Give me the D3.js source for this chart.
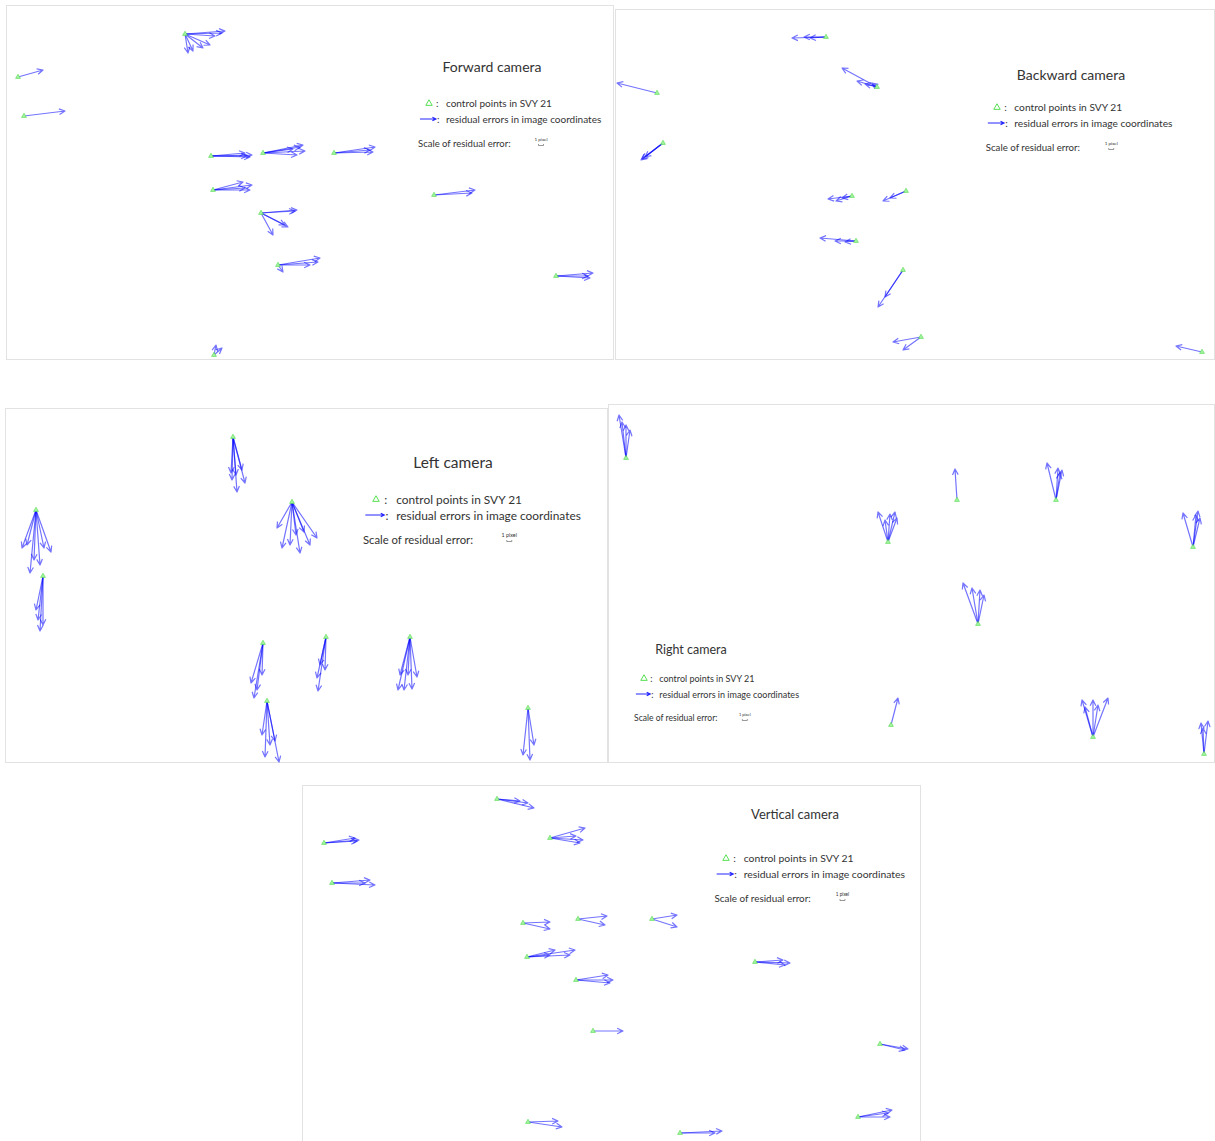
<!DOCTYPE html>
<html>
<head>
<meta charset="utf-8">
<script src="https://cdn.jsdelivr.net/npm/d3@7"></script>
<style>
  body { margin: 0; background: #fff; }
  svg { display: block; }
  text { font-family: Lato, "Open Sans", sans-serif; fill: #333; }
</style>
</head>
<body>
<svg id="chart" width="1215" height="1141"></svg>
<script>
// Titles of the five camera views
const cameraNames = ["Forward camera", "Backward camera", "Left camera", "Right camera", "Vertical camera"];

// Legend texts
const legendLabels = ["control points in SVY 21", "residual errors in image coordinates", "Scale of residual error:", "1 pixel"];

// Control points (image coordinates) and residual vectors (pixels) per camera
const forwardPoints = [[179, 29], [12, 72], [18, 111], [205, 151], [257, 148], [328, 148], [207, 185], [255, 208], [272, 260], [428, 190], [550, 271], [208, 350]];
const forwardResiduals = [
  [[8, -0.6], [7.4, -0.2], [6, 0.4], [0.6, 3.8], [1.6, 3.4], [3.6, 2.8], [5, 2.2]],
  [[5, -1.4]],
  [[8.2, -1]],
  [[8.2, -0.2], [7.8, 0.2], [6.8, -0.6], [7.2, 0]],
  [[8, -1.6], [8.4, -0.4], [7.4, -1.2], [6.8, 0.4], [6, -0.8]],
  [[8.2, -1.2], [7.8, -0.2], [7.2, -0.6]],
  [[7.8, -1], [7.4, 0], [6, -1.6], [6.4, -0.4]],
  [[7.2, -0.6], [6.8, -0.4], [5.4, 2.8], [4.8, 2.4], [2.4, 4.4]],
  [[8.4, -1.4], [8, -0.6], [6.4, 0], [1, 1.4]],
  [[8.2, -1], [7.6, -0.4]],
  [[7.4, -0.6], [6.8, 0.4], [6.4, 0]],
  [[0.4, -2], [1.6, -1.4]]
];

const backwardPoints = [[211, 28], [42, 84], [262, 78], [48, 134], [237, 187], [291, 182], [241, 232], [288, 261], [306, 328], [587, 343]];
const backwardResiduals = [
  [[-6.8, 0.2], [-3.2, 0.2], [-4.4, 0]],
  [[-8, -2]],
  [[-7, -3.8], [-4, -1.2], [-1, -0.8], [-2.4, -0.6]],
  [[-4.2, 3.2], [-3.6, 2.8], [-4.4, 3.4]],
  [[-4.8, 0.6], [-3.2, 1], [-2, 0.4]],
  [[-4.6, 2], [-3.2, 1.4]],
  [[-7.2, -0.6], [-4.2, 0], [-2.2, 0.2]],
  [[-5, 7.4], [-3.6, 5.4]],
  [[-5.6, 1], [-3.6, 2.6]],
  [[-5.2, -1.2]]
];

const leftPoints = [[228, 29], [31, 102], [287, 94], [38, 168], [258, 235], [321, 229], [405, 229], [262, 293], [523, 300]];
const leftResiduals = [
  [[0.8, 11], [-0.2, 8.6], [2.4, 9.2], [1.8, 6.6], [0.6, 7.6], [-0.4, 7.2]],
  [[-2.8, 7.6], [-1.2, 12.6], [3, 8.4], [1.6, 7.6], [-0.4, 10], [-1.8, 7], [0.8, 11]],
  [[-3, 5.2], [-2, 9.2], [1.6, 10.2], [5, 7.2], [3.6, 8.6], [-0.4, 8.6], [0.8, 6.6], [2.4, 6]],
  [[-1, 8.8], [-0.6, 11], [-1.4, 6.8], [0, 9.8]],
  [[-1.8, 11], [-2.4, 8], [-0.2, 6.4], [-1.2, 9.4]],
  [[-1.6, 10.8], [-1.8, 8.2], [-0.2, 6.6], [-1.2, 5.6]],
  [[-2.4, 10.6], [-1.2, 10.6], [0.4, 10.4], [1.4, 8], [-0.4, 7.6], [-2, 7.6]],
  [[-0.4, 11.2], [2.4, 12.2], [-1, 6.8], [0.6, 8.8], [1.6, 8]],
  [[0.4, 10.4], [-1, 9.4], [1.2, 7.4]]
];

const rightPoints = [[18, 54], [280, 138], [349, 96], [448, 96], [585, 143], [370, 220], [283, 321], [485, 333], [596, 350]];
const rightResiduals = [
  [[-1.4, -8.6], [-0.8, -7.2], [0, -6.6], [0.8, -5.6]],
  [[-2, -6], [1.4, -6], [0.4, -5.6], [1.8, -4.8], [-0.6, -4.4]],
  [[-0.4, -6.2]],
  [[-1.8, -7.4], [0.4, -6.4], [0.8, -5.4], [1.2, -6]],
  [[-2, -6.8], [1, -7.2], [0.6, -6.4], [1.4, -5.8]],
  [[-3, -8.2], [-1.2, -7.2], [0.4, -6.8], [1.2, -5.8]],
  [[1.4, -5.4]],
  [[-2.2, -7.4], [0, -7.4], [3, -7.8], [1, -6.4], [-1.6, -6]],
  [[-0.6, -6.2], [0.8, -6.6], [-0.2, -5.2]]
];

const verticalPoints = [[195, 14], [22, 58], [248, 53], [30, 98], [221, 138], [276, 134], [350, 134], [225, 172], [274, 195], [453, 177], [291, 246], [578, 259], [226, 337], [378, 348], [556, 332]];
const verticalResiduals = [
  [[7.4, 1.8], [6.2, 0.8], [4.6, 0.4]],
  [[7, -0.6], [6.2, -1], [6.6, -0.4]],
  [[7, -2], [6.6, 0.4], [6, 1], [5.2, -0.4]],
  [[8.6, 0.4], [7.6, -0.6], [6.6, 0]],
  [[5.4, -0.2], [5.4, 1.2]],
  [[5.8, -0.6], [5.4, 1.2]],
  [[5, -0.8], [5, 1.6]],
  [[9.6, -1.4], [8.6, -0.4], [4.6, -0.4], [5.6, -1.4]],
  [[7.4, 0], [6.4, -1], [6.8, 0.6]],
  [[7, 0.2], [5.6, -0.4], [6, 0.6]],
  [[6, 0]],
  [[5.6, 1], [5, 1.2]],
  [[6.8, 1], [6, -0.2]],
  [[8.4, -0.4], [7, 0]],
  [[6.8, -1.4], [6.4, 0], [6, -0.8]]
];

// Panel layout: frame, title centre, legend anchor (triangle), text scale
const panels = [
  { name: cameraNames[0], pts: forwardPoints, res: forwardResiduals, x: 6, y: 5, w: 608, h: 355, title: [492, 66], tfs: 14, legend: [429, 103], k: 1.0 },
  { name: cameraNames[1], pts: backwardPoints, res: backwardResiduals, x: 615, y: 9, w: 600, h: 351, title: [1071, 74], tfs: 14, legend: [997, 107], k: 1.02 },
  { name: cameraNames[2], pts: leftPoints, res: leftResiduals, x: 5, y: 408, w: 603, h: 355, title: [453, 462], tfs: 15.5, legend: [376, 499], k: 1.19 },
  { name: cameraNames[3], pts: rightPoints, res: rightResiduals, x: 608, y: 404, w: 607, h: 359, title: [691, 649], tfs: 12.5, legend: [644, 678], k: 0.9 },
  { name: cameraNames[4], pts: verticalPoints, res: verticalResiduals, x: 302, y: 785, w: 619, h: 360, title: [795, 814], tfs: 13, legend: [726, 858], k: 1.04 }
];

const svg = d3.select("#chart");
const ARROW = "#0000ff";
const GREEN_FILL = "#a6f5a0";
const GREEN_STROKE = "#4fd64a";

// 1 pixel of residual error is drawn 5 screen units long
const resScale = d3.scaleLinear().domain([0, 1]).range([0, 5]);

function arrowPath(x0, y0, x1, y1, head) {
  const a = Math.atan2(y1 - y0, x1 - x0);
  const s = 0.45;
  const hx1 = x1 - head * Math.cos(a - s), hy1 = y1 - head * Math.sin(a - s);
  const hx2 = x1 - head * Math.cos(a + s), hy2 = y1 - head * Math.sin(a + s);
  return `M${x0},${y0}L${x1},${y1}M${hx1},${hy1}L${x1},${y1}L${hx2},${hy2}`;
}

const tri = d3.symbol().type(d3.symbolTriangle);

panels.forEach(p => {
  const g = svg.append("g");
  const xs = d3.scaleLinear().domain([0, p.w]).range([p.x, p.x + p.w]);
  const ys = d3.scaleLinear().domain([0, p.h]).range([p.y, p.y + p.h]);

  g.append("rect")
    .attr("x", xs(0) + 0.5).attr("y", ys(0) + 0.5)
    .attr("width", p.w - 1).attr("height", p.h - 1)
    .attr("fill", "#fff").attr("stroke", "#e2e2e2").attr("stroke-width", 1);

  // residual vectors
  const vecs = [];
  p.pts.forEach((pt, i) => {
    p.res[i].forEach(r => vecs.push({ pt, r }));
  });
  g.append("g").selectAll("path").data(vecs).join("path")
    .attr("d", d => {
      const x0 = xs(d.pt[0]), y0 = ys(d.pt[1]);
      const x1 = x0 + resScale(d.r[0]), y1 = y0 + resScale(d.r[1]);
      return arrowPath(x0, y0, x1, y1, 6.5);
    })
    .attr("fill", "none").attr("stroke", ARROW)
    .attr("stroke-opacity", 0.55).attr("stroke-width", 1.2)
    .attr("stroke-linejoin", "round");

  // control points
  g.append("g").selectAll("path").data(p.pts).join("path")
    .attr("transform", d => `translate(${xs(d[0])},${ys(d[1])})`)
    .attr("d", tri.size(10)())
    .attr("fill", GREEN_FILL).attr("stroke", GREEN_STROKE).attr("stroke-width", 0.6);

  // title
  g.append("text")
    .attr("x", p.title[0]).attr("y", p.title[1])
    .attr("text-anchor", "middle").attr("dominant-baseline", "central")
    .attr("font-size", p.tfs).attr("fill", "#222")
    .text(p.name);

  // legend
  const k = p.k, lx = p.legend[0], ly = p.legend[1];
  const fs = 10 * k;
  g.append("path")
    .attr("transform", `translate(${lx},${ly + 0.5})`)
    .attr("d", tri.size(18)())
    .attr("fill", "none").attr("stroke", "#57e052").attr("stroke-width", 1);
  g.append("text").attr("x", lx + 7 * k).attr("y", ly).attr("dominant-baseline", "central")
    .attr("font-size", fs).text(":");
  g.append("text").attr("x", lx + 17 * k).attr("y", ly).attr("dominant-baseline", "central")
    .attr("font-size", fs).text(legendLabels[0]);

  const ay = ly + 16;
  g.append("path")
    .attr("d", arrowPath(lx - 9 * k, ay, lx + 7 * k, ay, 4))
    .attr("fill", "none").attr("stroke", ARROW).attr("stroke-width", 1.1).attr("stroke-opacity", 0.85);
  g.append("text").attr("x", lx + 8 * k).attr("y", ay).attr("dominant-baseline", "central")
    .attr("font-size", fs).text(":");
  g.append("text").attr("x", lx + 17 * k).attr("y", ay).attr("dominant-baseline", "central")
    .attr("font-size", fs).text(legendLabels[1]);

  const sy = ly + 40;
  g.append("text").attr("x", lx - 11 * k).attr("y", sy).attr("dominant-baseline", "central")
    .attr("font-size", fs * 0.95).text(legendLabels[2]);
  const bx = lx + 112 * k;
  g.append("text").attr("x", bx).attr("y", sy - 4).attr("text-anchor", "middle")
    .attr("dominant-baseline", "central").attr("font-size", 4.5 * k).text(legendLabels[3]);
  const bw = resScale(1);
  g.append("path")
    .attr("d", `M${bx - bw / 2},${sy + 1}L${bx - bw / 2},${sy + 2.5}L${bx + bw / 2},${sy + 2.5}L${bx + bw / 2},${sy + 1}`)
    .attr("fill", "none").attr("stroke", "#555").attr("stroke-width", 0.6);
});
</script>
</body>
</html>
